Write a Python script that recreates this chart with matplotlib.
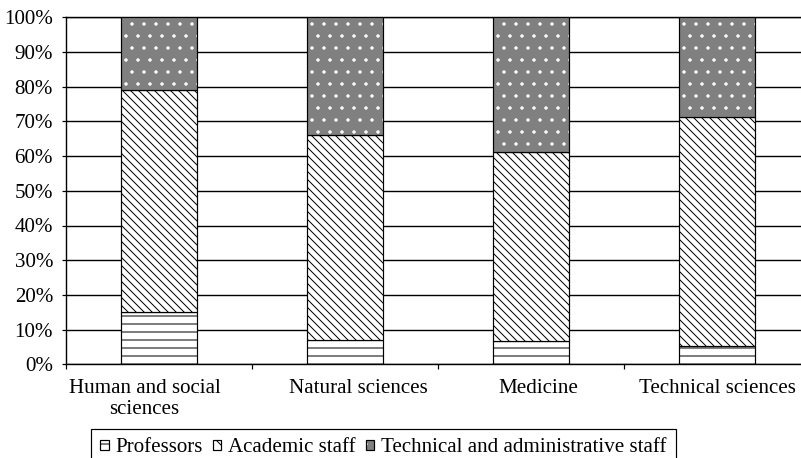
import numpy as np
import matplotlib
matplotlib.use('Agg')
import matplotlib.pyplot as plt
import matplotlib.transforms as mtransforms
from matplotlib.patches import Patch
from matplotlib.legend_handler import HandlerTuple

# data (percent of staff per field)
categories = ['Human and social\nsciences', 'Natural sciences', 'Medicine', 'Technical sciences']
professors = [15.1, 6.9, 6.6, 5.3]
academic = [63.9, 59.3, 54.6, 66.1]
technical = [21.0, 33.8, 38.8, 28.6]
series_names = ['Professors', 'Academic staff', 'Technical and administrative staff']
y_ticks = [0, 10, 20, 30, 40, 50, 60, 70, 80, 90, 100]

plt.rcParams['font.family'] = ['Liberation Serif', 'DejaVu Serif']
plt.rcParams['font.size'] = 10.5
plt.rcParams['hatch.linewidth'] = 0.5

fig = plt.figure(figsize=(801 / 144, 458 / 144), dpi=144)
ax = fig.add_axes([66 / 801, 1 - 364.3 / 458, 744 / 801, 347 / 458])

x = np.arange(len(categories))
w = 0.41
lw = 0.6
diag = '\\' * 6
prof = np.array(professors)
acad = np.array(academic)
tech = np.array(technical)

ax.bar(x, prof, w, color='white', edgecolor='black', hatch='---', linewidth=lw, zorder=3)
ax.bar(x, acad, w, bottom=prof, color='white', edgecolor='black', hatch=diag,
       linewidth=lw, zorder=3)
ax.bar(x, tech, w, bottom=prof + acad, color='#808080', edgecolor='white', hatch='..',
       linewidth=0, zorder=3)
ax.bar(x, tech, w, bottom=prof + acad, fill=False, edgecolor='black', linewidth=lw, zorder=4)

# axes and ticks
ax.set_xlim(-0.5, 3.5)
ax.set_ylim(0, 100)
ax.set_xticks(np.arange(-0.5, 4, 1))
ax.set_xticklabels([])
ax.set_xticks(x, minor=True)
ax.set_xticklabels(categories, minor=True, linespacing=1.12)
ax.tick_params(axis='x', which='minor', length=0, pad=7.5)
ax.tick_params(axis='x', which='major', direction='out', length=2.5, width=0.6)

# the original labels sit a little off the bar centres
label_shift = [-7.25, 6.75, 3.75, 0]
for lab, dx in zip(ax.get_xticklabels(minor=True), label_shift):
    lab.set_transform(lab.get_transform() +
                      mtransforms.ScaledTranslation(dx / 72, 0, fig.dpi_scale_trans))

ax.set_yticks(y_ticks)
ax.set_yticklabels([f'{v}%' for v in y_ticks])
ax.tick_params(axis='y', direction='out', length=2.25, width=0.6, pad=4.25)
ax.yaxis.grid(True, color='black', linewidth=0.7)
ax.set_axisbelow(True)
ax.spines['right'].set_visible(False)
for s in ['top', 'left', 'bottom']:
    ax.spines[s].set_linewidth(0.7)

# legend
handles = [
    Patch(facecolor='white', edgecolor='black', hatch='---', linewidth=lw),
    Patch(facecolor='white', edgecolor='black', hatch='\\\\\\', linewidth=lw),
    (Patch(facecolor='#808080', edgecolor='white', hatch='..', linewidth=0),
     Patch(fill=False, edgecolor='black', linewidth=lw)),
]
leg = fig.legend(handles, series_names, loc='upper left',
                 bbox_to_anchor=(91 / 801, 1 - 429 / 458), ncol=3,
                 prop={'family': ['Liberation Serif'], 'size': 10.5},
                 frameon=True, fancybox=False, edgecolor='black', framealpha=1,
                 borderpad=0.45, handlelength=0.4, handleheight=0.4,
                 handletextpad=0.3, columnspacing=0.5, borderaxespad=0,
                 handler_map={tuple: HandlerTuple(ndivide=1)})
leg.get_frame().set_linewidth(0.6)

fig.savefig('out.png', dpi=144)
